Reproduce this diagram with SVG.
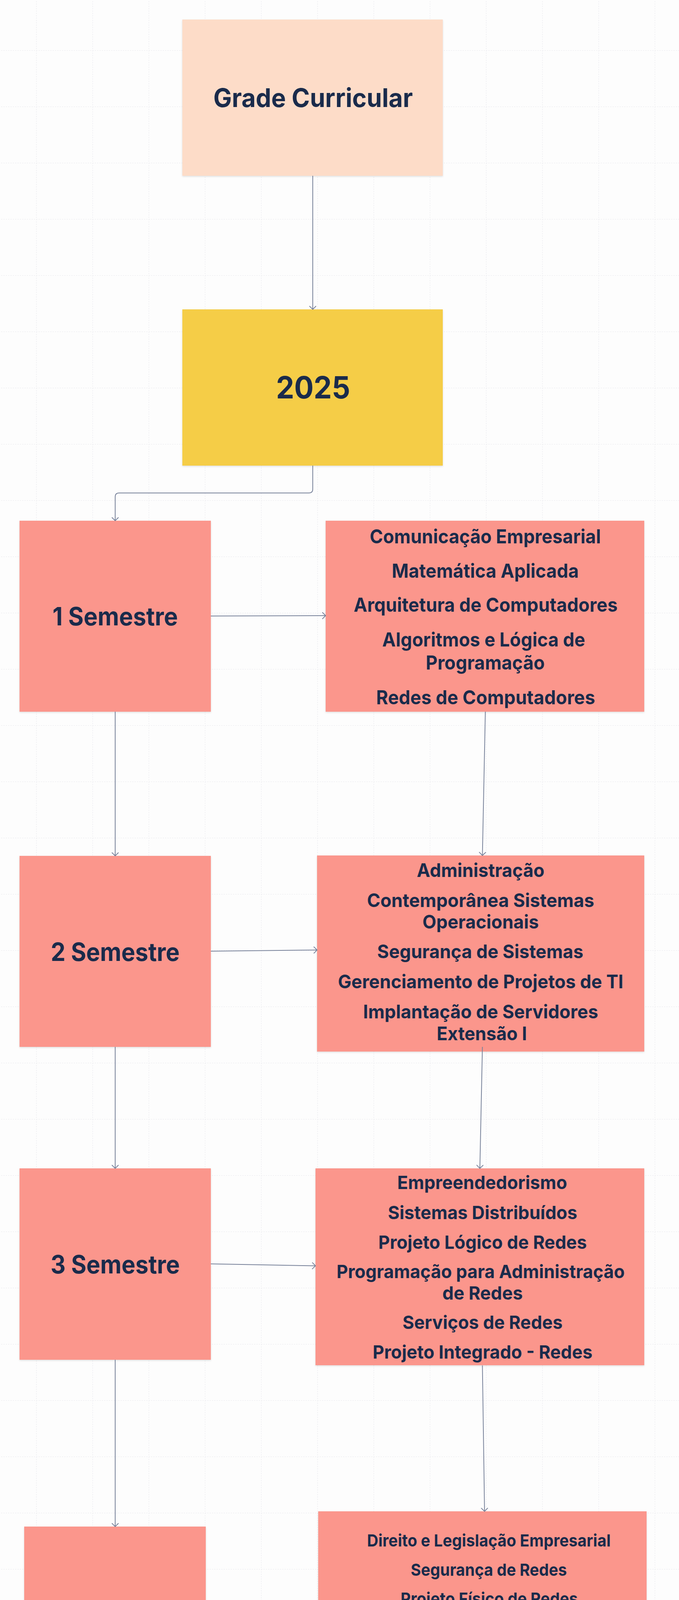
<svg xmlns="http://www.w3.org/2000/svg" width="1739" height="5250" viewBox="0 0 1739 5250">
<defs>
<style>
.bg{fill:#fdfdfd}
.peach{fill:#fddcc8}
.yellow{fill:#f5cd47}
.pink{fill:#fb968c}
.box{filter:url(#sh)}
.t{font-family:Inter,"Noto Sans","Liberation Sans",sans-serif;font-weight:700;fill:#1a2b4b;text-anchor:middle}
.h1{font-size:66px}
.yr{font-size:78px}
.sem{font-size:64px}
.b1{font-size:50px}
.b2{font-size:48px}
.b3{font-size:47px}
.b4{font-size:43px}
.b5{font-size:46px}
.conn{fill:none;stroke:#78829a;stroke-width:2;marker-end:url(#arr)}
</style>
<pattern id="grid" patternUnits="userSpaceOnUse" x="92.8" y="128.8" width="144" height="144">
<path d="M0 0.5H144M0.5 0V144" fill="none" stroke="#e6e6eb" stroke-width="1" stroke-dasharray="3 3"/>
</pattern>
<marker id="arr" viewBox="-10 -10 20 20" refX="0" refY="0" markerWidth="20" markerHeight="20" markerUnits="userSpaceOnUse" orient="auto">
<path d="M-8,-8 L0,0 L-8,8" fill="none" stroke="#78829a" stroke-width="2" stroke-linejoin="round" stroke-linecap="round"/>
</marker>
<filter id="sh" x="-5%" y="-5%" width="110%" height="115%">
<feDropShadow dx="0" dy="2" stdDeviation="2" flood-color="#000" flood-opacity="0.12"/>
</filter>
</defs>

<rect class="bg" x="0" y="0" width="1739" height="5250"/>
<rect x="0" y="0" width="1739" height="5250" fill="url(#grid)"/>

<g id="node-grade">
<rect class="box peach" x="467" y="50" width="667" height="400"/>
<text class="t h1" x="802" y="274" textLength="511" lengthAdjust="spacingAndGlyphs">Grade Curricular</text>
</g>

<g id="node-2025">
<rect class="box yellow" x="467" y="792" width="667" height="400"/>
<text class="t yr" x="802" y="1020" textLength="190" lengthAdjust="spacingAndGlyphs">2025</text>
</g>

<g id="node-sem1">
<rect class="box pink" x="50" y="1333" width="490" height="489"/>
<text class="t sem" x="295" y="1601" textLength="321" lengthAdjust="spacingAndGlyphs">1 Semestre</text>
</g>

<g id="node-disc1">
<rect class="box pink" x="834" y="1333" width="816" height="489"/>
<text class="t b1" x="1243" y="1391" textLength="592" lengthAdjust="spacingAndGlyphs">Comunicação Empresarial</text>
<text class="t b1" x="1243" y="1479" textLength="479" lengthAdjust="spacingAndGlyphs">Matemática Aplicada</text>
<text class="t b1" x="1244" y="1566" textLength="676" lengthAdjust="spacingAndGlyphs">Arquitetura de Computadores</text>
<text class="t b1" x="1239" y="1655" textLength="520" lengthAdjust="spacingAndGlyphs">Algoritmos e Lógica de</text>
<text class="t b1" x="1243" y="1714" textLength="305" lengthAdjust="spacingAndGlyphs">Programação</text>
<text class="t b1" x="1244" y="1803" textLength="561" lengthAdjust="spacingAndGlyphs">Redes de Computadores</text>
</g>

<g id="node-sem2">
<rect class="box pink" x="50" y="2191" width="490" height="489"/>
<text class="t sem" x="295" y="2460" textLength="330" lengthAdjust="spacingAndGlyphs">2 Semestre</text>
</g>

<g id="node-disc2">
<rect class="box pink" x="812" y="2190" width="838" height="502"/>
<text class="t b2" x="1231" y="2245" textLength="327" lengthAdjust="spacingAndGlyphs">Administração</text>
<text class="t b2" x="1231" y="2322" textLength="582" lengthAdjust="spacingAndGlyphs">Contemporânea Sistemas</text>
<text class="t b2" x="1231" y="2377" textLength="298" lengthAdjust="spacingAndGlyphs">Operacionais</text>
<text class="t b2" x="1230" y="2453" textLength="528" lengthAdjust="spacingAndGlyphs">Segurança de Sistemas</text>
<text class="t b2" x="1231" y="2530" textLength="731" lengthAdjust="spacingAndGlyphs">Gerenciamento de Projetos de TI</text>
<text class="t b2" x="1231" y="2607" textLength="602" lengthAdjust="spacingAndGlyphs">Implantação de Servidores</text>
<text class="t b2" x="1234" y="2663" textLength="231" lengthAdjust="spacingAndGlyphs">Extensão I</text>
</g>

<g id="node-sem3">
<rect class="box pink" x="50" y="2991" width="490" height="490"/>
<text class="t sem" x="295" y="3260" textLength="331" lengthAdjust="spacingAndGlyphs">3 Semestre</text>
</g>

<g id="node-disc3">
<rect class="box pink" x="808" y="2991" width="842" height="504"/>
<text class="t b3" x="1235" y="3044" textLength="435" lengthAdjust="spacingAndGlyphs">Empreendedorismo</text>
<text class="t b3" x="1236" y="3121" textLength="485" lengthAdjust="spacingAndGlyphs">Sistemas Distribuídos</text>
<text class="t b3" x="1236" y="3197" textLength="534" lengthAdjust="spacingAndGlyphs">Projeto Lógico de Redes</text>
<text class="t b3" x="1231" y="3272" textLength="738" lengthAdjust="spacingAndGlyphs">Programação para Administração</text>
<text class="t b3" x="1236" y="3327" textLength="206" lengthAdjust="spacingAndGlyphs">de Redes</text>
<text class="t b3" x="1236" y="3402" textLength="410" lengthAdjust="spacingAndGlyphs">Serviços de Redes</text>
<text class="t b3" x="1236" y="3478" textLength="563" lengthAdjust="spacingAndGlyphs">Projeto Integrado - Redes</text>
</g>

<g id="node-sem4">
<rect class="box pink" x="62" y="3908" width="465" height="464"/>
<text class="t sem" x="295" y="4164" textLength="311" lengthAdjust="spacingAndGlyphs">4 semestre</text>
</g>

<g id="node-disc4">
<rect class="box pink" x="815" y="3869" width="841" height="503"/>
<text class="t b4" x="1252" y="3959" textLength="624" lengthAdjust="spacingAndGlyphs">Direito e Legislação Empresarial</text>
<text class="t b4" x="1252" y="4034" textLength="400" lengthAdjust="spacingAndGlyphs">Segurança de Redes</text>
<text class="t b4" x="1253" y="4108" textLength="454" lengthAdjust="spacingAndGlyphs">Projeto Físico de Redes</text>
<text class="t b4" x="1253" y="4182" textLength="703" lengthAdjust="spacingAndGlyphs">Arquitetura do Protocolo de Internet</text>
<text class="t b4" x="1253" y="4257" textLength="365" lengthAdjust="spacingAndGlyphs">Gerência de Redes</text>
<text class="t b4" x="1252" y="4331" textLength="749" lengthAdjust="spacingAndGlyphs">Projeto Integrado II - Redes Extensão II</text>
</g>

<g id="node-sem5">
<rect class="box pink" x="50" y="4704" width="490" height="489"/>
<text class="t sem" x="295" y="4973" textLength="331" lengthAdjust="spacingAndGlyphs">5 Semestre</text>
</g>

<g id="node-disc5">
<rect class="box pink" x="815" y="4689" width="841" height="504"/>
<text class="t b5" x="1254" y="4752" textLength="737" lengthAdjust="spacingAndGlyphs">Diagnóstico e Gestão de Processos</text>
<text class="t b5" x="1259" y="4808" textLength="131" lengthAdjust="spacingAndGlyphs">Libras</text>
<text class="t b5" x="1255" y="4887" textLength="804" lengthAdjust="spacingAndGlyphs">Tópicos Especiais e Práticas em Redes</text>
<text class="t b5" x="1259" y="4943" textLength="617" lengthAdjust="spacingAndGlyphs">Convergência de Tecnologias</text>
<text class="t b5" x="1259" y="5022" textLength="523" lengthAdjust="spacingAndGlyphs">Projetos de Redes Locais</text>
<text class="t b5" x="1259" y="5102" textLength="568" lengthAdjust="spacingAndGlyphs">Projeto Integrado III- Redes</text>
<text class="t b5" x="1259" y="5181" textLength="240" lengthAdjust="spacingAndGlyphs">Extensão III</text>
</g>

<g id="connectors">
<path class="conn" d="M801 450V792"/>
<path class="conn" d="M801 1192V1252Q801 1262 791 1262H305Q295 1262 295 1272V1333"/>
<path class="conn" d="M540 1577L834 1576"/>
<path class="conn" d="M295 1822V2191"/>
<path class="conn" d="M1243 1822L1235.5 2190"/>
<path class="conn" d="M540 2435L812 2432"/>
<path class="conn" d="M295 2680V2991"/>
<path class="conn" d="M1235.5 2680L1229 2991"/>
<path class="conn" d="M540 3235.5L808 3240.5"/>
<path class="conn" d="M295 3481V3908"/>
<path class="conn" d="M1235.5 3495.5L1241 3869"/>
<path class="conn" d="M527 4140L815 4128"/>
<path class="conn" d="M295 4372V4704"/>
<path class="conn" d="M1252 4347L1235.5 4689"/>
<path class="conn" d="M540 4948.5L815 4942"/>
</g>
</svg>
